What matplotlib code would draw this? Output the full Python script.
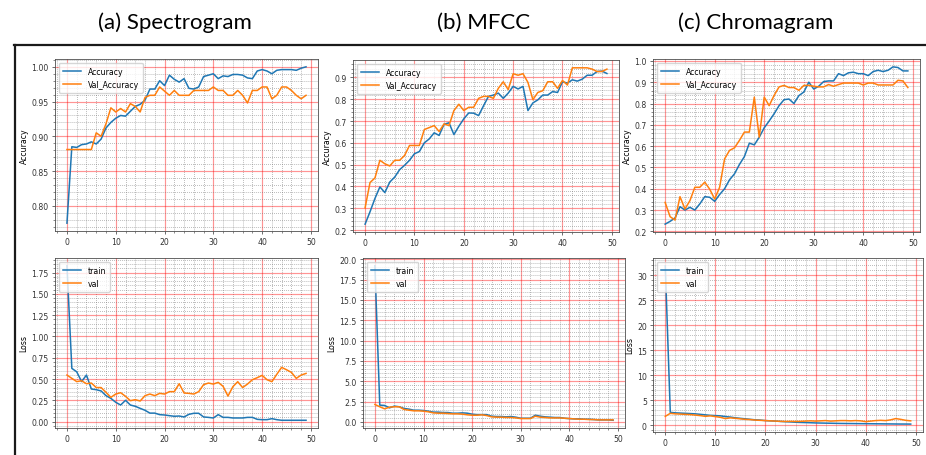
import matplotlib
matplotlib.use("Agg")
import matplotlib.pyplot as plt
from matplotlib.ticker import AutoMinorLocator, MultipleLocator, FormatStrFormatter
from matplotlib.lines import Line2D

epochs = list(range(50))

spec_acc = [0.775, 0.885, 0.884, 0.888, 0.889, 0.892, 0.889, 0.896, 0.912, 0.920,
            0.926, 0.930, 0.929, 0.936, 0.943, 0.946, 0.952, 0.968, 0.968, 0.980,
            0.973, 0.988, 0.982, 0.978, 0.983, 0.969, 0.968, 0.971, 0.986, 0.988,
            0.990, 0.983, 0.987, 0.986, 0.989, 0.989, 0.988, 0.984, 0.983, 0.994,
            0.996, 0.994, 0.990, 0.995, 0.996, 0.996, 0.996, 0.995, 0.998, 1.000]
spec_val_acc = [0.881, 0.881, 0.881, 0.881, 0.881, 0.881, 0.905, 0.900, 0.918, 0.941,
                0.935, 0.940, 0.935, 0.947, 0.943, 0.935, 0.956, 0.959, 0.959, 0.971,
                0.965, 0.959, 0.966, 0.959, 0.959, 0.959, 0.966, 0.966, 0.966, 0.966,
                0.971, 0.966, 0.966, 0.959, 0.959, 0.966, 0.959, 0.948, 0.966, 0.966,
                0.971, 0.971, 0.954, 0.959, 0.971, 0.971, 0.966, 0.959, 0.954, 0.959]
spec_loss = [1.83, 0.625, 0.585, 0.47, 0.547, 0.383, 0.375, 0.36, 0.305, 0.273,
             0.227, 0.195, 0.25, 0.195, 0.18, 0.156, 0.133, 0.10, 0.10, 0.082,
             0.078, 0.07, 0.063, 0.066, 0.055, 0.086, 0.098, 0.098, 0.055, 0.05,
             0.043, 0.082, 0.05, 0.05, 0.043, 0.043, 0.043, 0.05, 0.05, 0.027,
             0.023, 0.023, 0.035, 0.023, 0.016, 0.016, 0.016, 0.016, 0.016, 0.016]
spec_val_loss = [0.547, 0.508, 0.47, 0.48, 0.445, 0.453, 0.40, 0.40, 0.344, 0.285,
                 0.324, 0.34, 0.297, 0.246, 0.258, 0.242, 0.305, 0.324, 0.305, 0.332,
                 0.324, 0.352, 0.352, 0.445, 0.336, 0.332, 0.324, 0.352, 0.434, 0.453,
                 0.441, 0.461, 0.414, 0.30, 0.41, 0.469, 0.40, 0.441, 0.492, 0.516,
                 0.543, 0.492, 0.469, 0.555, 0.637, 0.609, 0.578, 0.508, 0.547, 0.566]

mfcc_acc = [0.227, 0.284, 0.345, 0.398, 0.372, 0.42, 0.443, 0.477, 0.497, 0.52,
            0.55, 0.56, 0.60, 0.618, 0.646, 0.634, 0.685, 0.692, 0.638, 0.676,
            0.71, 0.737, 0.736, 0.725, 0.77, 0.813, 0.819, 0.828, 0.804, 0.828,
            0.859, 0.847, 0.859, 0.748, 0.783, 0.797, 0.819, 0.819, 0.835, 0.831,
            0.88, 0.874, 0.889, 0.883, 0.892, 0.91, 0.91, 0.927, 0.929, 0.918]
mfcc_val_acc = [0.302, 0.418, 0.439, 0.52, 0.504, 0.494, 0.52, 0.52, 0.542, 0.588,
                0.588, 0.588, 0.661, 0.67, 0.679, 0.652, 0.687, 0.679, 0.748, 0.777,
                0.748, 0.763, 0.763, 0.804, 0.813, 0.813, 0.804, 0.85, 0.88, 0.844,
                0.917, 0.91, 0.917, 0.877, 0.798, 0.831, 0.839, 0.88, 0.88, 0.85,
                0.886, 0.865, 0.944, 0.944, 0.944, 0.944, 0.938, 0.927, 0.927, 0.938]
mfcc_loss = [19.2, 2.06, 2.02, 1.73, 1.94, 1.86, 1.65, 1.57, 1.44, 1.44,
             1.40, 1.32, 1.2, 1.2, 1.15, 1.15, 1.07, 1.07, 1.11, 1.07,
             0.95, 0.9, 0.9, 0.9, 0.7, 0.66, 0.66, 0.62, 0.66, 0.58,
             0.45, 0.45, 0.45, 0.82, 0.7, 0.62, 0.58, 0.54, 0.54, 0.45,
             0.41, 0.37, 0.37, 0.33, 0.33, 0.29, 0.25, 0.25, 0.25, 0.2]
mfcc_val_loss = [2.14, 1.86, 1.61, 1.81, 1.86, 1.86, 1.53, 1.44, 1.36, 1.36,
                 1.32, 1.24, 1.11, 1.07, 1.07, 1.03, 0.99, 0.99, 0.95, 0.87,
                 0.82, 0.82, 0.87, 0.78, 0.62, 0.58, 0.58, 0.54, 0.54, 0.49,
                 0.41, 0.41, 0.41, 0.7, 0.58, 0.54, 0.49, 0.49, 0.49, 0.45,
                 0.41, 0.37, 0.33, 0.33, 0.29, 0.29, 0.25, 0.25, 0.25, 0.25]

chroma_acc = [0.234, 0.247, 0.263, 0.316, 0.30, 0.313, 0.30, 0.329, 0.363, 0.36,
              0.341, 0.373, 0.40, 0.442, 0.47, 0.514, 0.551, 0.614, 0.606, 0.642,
              0.686, 0.718, 0.752, 0.79, 0.818, 0.821, 0.80, 0.837, 0.854, 0.90,
              0.868, 0.881, 0.903, 0.906, 0.906, 0.94, 0.931, 0.944, 0.947, 0.94,
              0.94, 0.931, 0.95, 0.956, 0.95, 0.956, 0.972, 0.969, 0.953, 0.953]
chroma_val_acc = [0.336, 0.269, 0.253, 0.363, 0.305, 0.344, 0.407, 0.407, 0.431, 0.398,
                  0.352, 0.407, 0.54, 0.58, 0.592, 0.627, 0.666, 0.666, 0.83, 0.642,
                  0.83, 0.79, 0.838, 0.878, 0.885, 0.875, 0.875, 0.862, 0.885, 0.885,
                  0.881, 0.878, 0.878, 0.889, 0.881, 0.889, 0.896, 0.896, 0.896, 0.896,
                  0.887, 0.896, 0.896, 0.887, 0.887, 0.887, 0.887, 0.909, 0.906, 0.875]
chroma_loss = [31.9, 2.6, 2.5, 2.45, 2.4, 2.35, 2.3, 2.2, 2.1, 2.0,
               1.95, 1.9, 1.75, 1.65, 1.5, 1.4, 1.3, 1.2, 1.1, 1.05,
               0.95, 0.9, 0.85, 0.78, 0.72, 0.68, 0.62, 0.58, 0.55, 0.52,
               0.48, 0.46, 0.44, 0.42, 0.4, 0.38, 0.37, 0.36, 0.35, 0.34,
               0.33, 0.32, 0.31, 0.3, 0.29, 0.28, 0.27, 0.26, 0.26, 0.25]
chroma_val_loss = [1.8, 2.4, 2.3, 2.25, 2.2, 2.15, 2.05, 1.95, 1.8, 1.9,
                   1.75, 1.6, 1.35, 1.5, 1.4, 1.3, 1.2, 1.15, 1.05, 1.0,
                   0.95, 0.9, 0.85, 0.8, 0.78, 0.8, 0.78, 0.8, 0.85, 0.9,
                   0.85, 0.9, 0.95, 0.85, 0.9, 0.95, 0.95, 0.9, 0.95, 0.9,
                   0.75, 0.85, 0.95, 1.0, 0.95, 1.1, 1.35, 1.2, 1.0, 0.9]

titles = ["(a) Spectrogram", "(b) MFCC", "(c) Chromagram"]
acc_labels = ["Accuracy", "Val_Accuracy"]
loss_labels = ["train", "val"]

W, H = 926, 456
fig = plt.figure(figsize=(W / 100, H / 100), dpi=100)

def px_axes(l, t, r, b):
    return fig.add_axes([l / W, 1 - b / H, (r - l) / W, (b - t) / H])

FS = 5.6
BLUE = "#1f77b4"
ORANGE = "#ff7f0e"
LW = 1.1

def style(ax, ylabel, ymaj):
    ax.xaxis.set_major_locator(MultipleLocator(10))
    ax.yaxis.set_major_locator(MultipleLocator(ymaj))
    ax.xaxis.set_minor_locator(AutoMinorLocator(5))
    ax.yaxis.set_minor_locator(AutoMinorLocator(5))
    ax.grid(which="major", color="red", linestyle="-", linewidth=0.85, alpha=0.42)
    ax.grid(which="minor", color="0.4", linestyle=":", linewidth=0.55, alpha=0.7)
    ax.set_axisbelow(True)
    ax.tick_params(which="major", labelsize=FS, length=2.5, width=0.5, pad=2, colors="0.2")
    ax.tick_params(which="minor", length=1.4, width=0.4, colors="0.2")
    for s in ax.spines.values():
        s.set_linewidth(0.6)
        s.set_color("0.3")
    ax.set_ylabel(ylabel, fontsize=FS, labelpad=2)
    ax.legend(loc="upper left", fontsize=FS, handlelength=2.4, borderpad=0.5,
              labelspacing=0.5, framealpha=0.8)

def fmt2(ax):
    ax.yaxis.set_major_formatter(FormatStrFormatter("%.2f"))

# (a) Spectrogram
ax = px_axes(55, 60, 318, 232)
ax.plot(epochs, spec_acc, color=BLUE, lw=LW, label=acc_labels[0])
ax.plot(epochs, spec_val_acc, color=ORANGE, lw=LW, label=acc_labels[1])
style(ax, "Accuracy", 0.05); fmt2(ax)

ax = px_axes(55, 259, 318, 429)
ax.plot(epochs, spec_loss, color=BLUE, lw=LW, label=loss_labels[0])
ax.plot(epochs, spec_val_loss, color=ORANGE, lw=LW, label=loss_labels[1])
style(ax, "Loss", 0.25); fmt2(ax)

# (b) MFCC
ax = px_axes(353, 61, 619, 233)
ax.plot(epochs, mfcc_acc, color=BLUE, lw=LW, label=acc_labels[0])
ax.plot(epochs, mfcc_val_acc, color=ORANGE, lw=LW, label=acc_labels[1])
style(ax, "Accuracy", 0.1)

ax = px_axes(363, 259, 625, 429)
ax.plot(epochs, mfcc_loss, color=BLUE, lw=LW, label=loss_labels[0])
ax.plot(epochs, mfcc_val_loss, color=ORANGE, lw=LW, label=loss_labels[1])
style(ax, "Loss", 2.5)

# (c) Chromagram
ax = px_axes(653, 60, 920, 233)
ax.plot(epochs, chroma_acc, color=BLUE, lw=LW, label=acc_labels[0])
ax.plot(epochs, chroma_val_acc, color=ORANGE, lw=LW, label=acc_labels[1])
style(ax, "Accuracy", 0.1)

ax = px_axes(653, 259, 923, 433)
ax.plot(epochs, chroma_loss, color=BLUE, lw=LW, label=loss_labels[0])
ax.plot(epochs, chroma_val_loss, color=ORANGE, lw=LW, label=loss_labels[1])
style(ax, "Loss", 5)

# column titles
for x, t in zip([175, 484, 756], titles):
    fig.text(x / W, 1 - 23 / H, t, ha="center", va="center", fontsize=16,
             family="Lato", color="black")

# frame around panels
fig.add_artist(Line2D([14 / W, 1.0], [1 - 46 / H, 1 - 46 / H], color="0.1", lw=1.6))
fig.add_artist(Line2D([15 / W, 15 / W], [0, 1 - 46 / H], color="0.1", lw=1.6))

fig.savefig("out.png", dpi=100)
